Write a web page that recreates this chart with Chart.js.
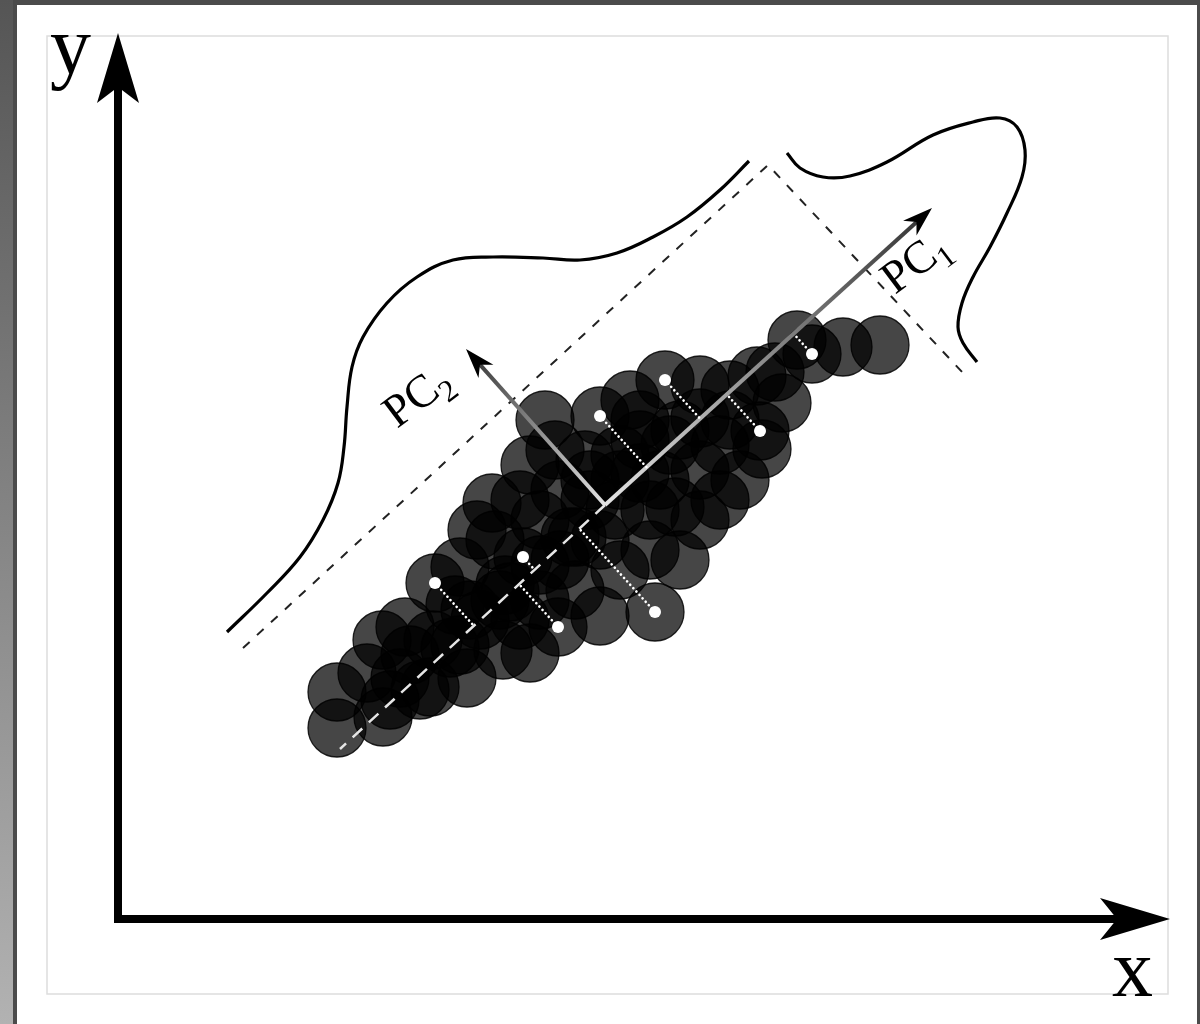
<!DOCTYPE html>
<html><head><meta charset="utf-8">
<script src="https://cdn.jsdelivr.net/npm/chart.js@4.4.1/dist/chart.umd.min.js"></script>
<style>html,body{margin:0;padding:0;background:#4b4b4b;overflow:hidden}canvas{display:block}</style>
</head><body>
<canvas id="c" width="1200" height="1024"></canvas>
<script>
// Units: measured from the axis origin, x to the right, y upward.
const pointX = [219,219,265,249,264,287,312,349,282,315,342,317,342,359,374,352,385,412,382,405,387,422,440,422,457,482,537,502,532,482,459,442,427,412,467,482,437,502,522,547,582,522,562,582,557,602,622,582,639,657,664,642,644,612,679,694,725,762,602,497,542,562,402,377,337,292,442,472,512,402,332,362,392,422,452,522,552,582,612,502,472,532,272,302];
const pointY = [191,227,202,246,279,292,232,241,241,279,274,336,352,389,416,309,269,266,319,362,334,399,292,319,329,303,307,349,369,379,382,429,499,454,459,503,469,439,499,539,534,479,489,449,412,419,439,399,543,547,516,488,470,499,579,565,572,574,474,409,439,359,419,379,314,264,359,419,519,299,271,299,327,354,382,446,474,501,529,464,439,409,219,229];
const highlightX = [317,405,440,537,482,547,642,694];
const highlightY = [336,362,292,307,503,539,488,565];
const pcOrigin = [487,414];
const pc1Tip = [814,711];
const pc2Tip = [348,570];
const pc1TailEnd = [222,170];
const densityPC1X = [109,149,182,205,220,226,229,234,245,269,299,335,375,425,462,499,535,569,602,631];
const densityPC1Y = [287,326,362,399,436,472,512,552,582,616,642,659,662,661,659,666,682,702,729,758];
const densityPC2X = [669,682,705,732,769,815,855,882,899,907,904,889,872,855,844,840,845,859];
const densityPC2Y = [766,751,742,743,757,784,797,801,792,769,742,706,672,642,616,592,576,557];
const frameX = [125,650,845];
const frameY = [271,754,546];
const axisXMax = 1052, axisYMax = 886;
const axisLabels = ['x','y'];
const pcLabelText = 'PC';
const pcSubs = ['1','2'];

const pts = (xs, ys) => xs.map((x, i) => ({x, y: ys[i]}));
const ux = pc1Tip[0]-pcOrigin[0], uy = pc1Tip[1]-pcOrigin[1];
const uL2 = ux*ux + uy*uy;
function project(x, y){
  const t = ((x-pcOrigin[0])*ux + (y-pcOrigin[1])*uy) / uL2;
  return {x: pcOrigin[0]+t*ux, y: pcOrigin[1]+t*uy};
}
function shaftEnd(tip, back){
  const dx = tip[0]-pcOrigin[0], dy = tip[1]-pcOrigin[1], L = Math.hypot(dx, dy);
  return {x: tip[0]-dx/L*back, y: tip[1]-dy/L*back};
}
function gradientFor(tip){
  return function(ctx){
    const c = ctx.chart;
    if (!c.chartArea) return '#888';
    const xs = c.scales.x, ys = c.scales.y;
    const g = c.ctx.createLinearGradient(xs.getPixelForValue(pcOrigin[0]), ys.getPixelForValue(pcOrigin[1]), xs.getPixelForValue(tip[0]), ys.getPixelForValue(tip[1]));
    g.addColorStop(0, '#e4e4e4');
    g.addColorStop(0.5, '#8a8a8a');
    g.addColorStop(1, '#303030');
    return g;
  };
}

const datasets = [];
datasets.push({type:'scatter', label:'highlighted', data: pts(highlightX, highlightY), pointRadius:6, backgroundColor:'#ffffff', borderWidth:0, order:0});
highlightX.forEach((x, i) => {
  const y = highlightY[i];
  datasets.push({type:'line', data:[{x, y}, project(x, y)], borderColor:'#ffffff', borderWidth:2.6, borderDash:[0.1,4.5], borderCapStyle:'round', pointRadius:0, tension:0, order:1});
});
datasets.push({type:'line', label:'PC1', data:[{x:pcOrigin[0], y:pcOrigin[1]}, shaftEnd(pc1Tip, 20)], borderColor: gradientFor(pc1Tip), borderWidth:4, pointRadius:0, order:2});
datasets.push({type:'line', label:'PC2', data:[{x:pcOrigin[0], y:pcOrigin[1]}, shaftEnd(pc2Tip, 20)], borderColor: gradientFor(pc2Tip), borderWidth:4, pointRadius:0, order:2});
datasets.push({type:'line', label:'PC1 tail', data:[{x:pcOrigin[0], y:pcOrigin[1]}, {x:pc1TailEnd[0], y:pc1TailEnd[1]}], borderColor:'#e6e6e6', borderWidth:2.5, borderDash:[13,9], pointRadius:0, order:3});
datasets.push({type:'scatter', label:'samples', data: pts(pointX, pointY), pointRadius:29, backgroundColor:'rgba(0,0,0,0.725)', borderColor:'rgba(0,0,0,0.85)', borderWidth:1.3, order:10});
datasets.push({type:'line', label:'density PC1', data: pts(densityPC1X, densityPC1Y), borderColor:'#000', borderWidth:3.2, pointRadius:0, tension:0.4, order:11});
datasets.push({type:'line', label:'density PC2', data: pts(densityPC2X, densityPC2Y), borderColor:'#000', borderWidth:3.2, pointRadius:0, tension:0.4, order:11});
datasets.push({type:'line', label:'frame', data: pts(frameX, frameY), borderColor:'#222', borderWidth:2, borderDash:[9,10], pointRadius:0, tension:0, order:11});
datasets.push({type:'line', label:'axes', data:[{x:0, y:axisYMax-54}, {x:0, y:0}, {x:axisXMax-53, y:0}], borderColor:'#000', borderWidth:8, borderJoinStyle:'miter', pointRadius:0, tension:0, order:11});

function arrowHead(ctx, fx, fy, tx, ty, len, hw, notch){
  const dx = tx-fx, dy = ty-fy, L = Math.hypot(dx, dy);
  const ex = dx/L, ey = dy/L, nx = -ey, ny = ex;
  ctx.beginPath();
  ctx.moveTo(tx, ty);
  ctx.lineTo(tx-ex*len+nx*hw, ty-ey*len+ny*hw);
  ctx.lineTo(tx-ex*notch, ty-ey*notch);
  ctx.lineTo(tx-ex*len-nx*hw, ty-ey*len-ny*hw);
  ctx.closePath();
  ctx.fill();
}

const decor = {
  id:'decor',
  beforeDraw(chart){
    const ctx = chart.ctx;
    ctx.save();
    ctx.fillStyle = '#4b4b4b'; ctx.fillRect(0, 0, 1200, 1024);
    const g = ctx.createLinearGradient(0, 0, 0, 1024);
    g.addColorStop(0, '#555'); g.addColorStop(1, '#b2b2b2');
    ctx.fillStyle = g; ctx.fillRect(0, 0, 13, 1024);
    ctx.fillStyle = '#ffffff'; ctx.fillRect(17, 5, 1180, 1019);
    ctx.strokeStyle = '#dddddd'; ctx.lineWidth = 1.5; ctx.strokeRect(47, 36, 1121, 958);
    ctx.restore();
  },
  afterDatasetsDraw(chart){
    const ctx = chart.ctx, xs = chart.scales.x, ys = chart.scales.y;
    const px = v => xs.getPixelForValue(v), py = v => ys.getPixelForValue(v);
    ctx.save();
    ctx.fillStyle = '#000';
    arrowHead(ctx, px(0), py(0), px(0), py(axisYMax), 70, 21, 54);
    arrowHead(ctx, px(0), py(0), px(axisXMax), py(0), 70, 21, 53);
    arrowHead(ctx, px(pcOrigin[0]), py(pcOrigin[1]), px(pc1Tip[0]), py(pc1Tip[1]), 30, 10, 21);
    arrowHead(ctx, px(pcOrigin[0]), py(pcOrigin[1]), px(pc2Tip[0]), py(pc2Tip[1]), 30, 10, 21);
    ctx.font = '82px "Liberation Serif", "DejaVu Serif", serif';
    ctx.textBaseline = 'alphabetic';
    ctx.fillText(axisLabels[1], px(-68), py(846));
    ctx.fillText(axisLabels[0], px(994), py(-77));
    const pcLabel = (ax, ay, sub) => {
      ctx.save();
      ctx.translate(px(ax), py(ay));
      ctx.rotate(-37 * Math.PI / 180);
      ctx.font = '46px "Liberation Serif", "DejaVu Serif", serif';
      ctx.fillText(pcLabelText, 0, 0);
      const w = ctx.measureText(pcLabelText).width;
      ctx.font = '31px "Liberation Serif", "DejaVu Serif", serif';
      ctx.fillText(sub, w, 10);
      ctx.restore();
    };
    pcLabel(777, 624, pcSubs[0]);
    pcLabel(279, 490, pcSubs[1]);
    ctx.restore();
  }
};

new Chart(document.getElementById('c'), {
  type:'scatter',
  data:{datasets},
  options:{
    responsive:false, animation:false, events:[],
    layout:{padding:0, autoPadding:false},
    plugins:{legend:{display:false}, tooltip:{enabled:false}, title:{display:false}},
    scales:{
      x:{type:'linear', min:-118, max:1082, display:false},
      y:{type:'linear', min:-105, max:919, display:false}
    }
  },
  plugins:[decor]
});
</script>
</body></html>
